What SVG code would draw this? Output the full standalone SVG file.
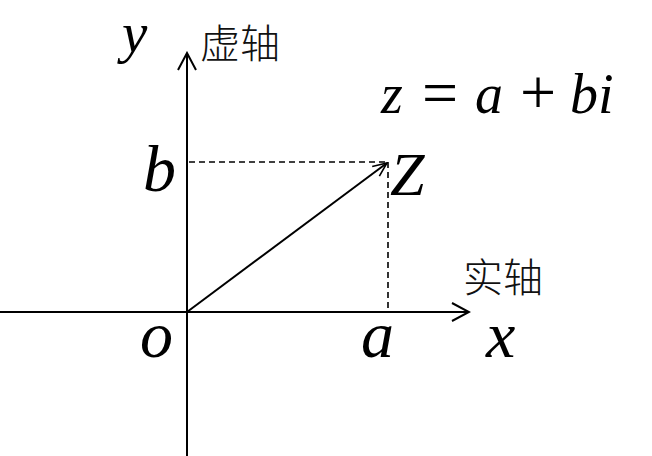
<svg xmlns="http://www.w3.org/2000/svg" width="652" height="456" viewBox="0 0 652 456">
<style>
.ax{stroke:#000;stroke-width:2;fill:none}
.ds{stroke:#000;stroke-width:1.6;fill:none;stroke-dasharray:6 4}
</style>
<defs>
<marker id="oa" viewBox="0 0 20 20" refX="18" refY="10" markerWidth="20" markerHeight="20" markerUnits="userSpaceOnUse" orient="auto">
<path d="M1,1 L18,10 L1,19" fill="none" stroke="#000" stroke-width="2"/>
</marker>
<marker id="va" viewBox="0 0 16 16" refX="15" refY="8" markerWidth="16" markerHeight="16" markerUnits="userSpaceOnUse" orient="auto">
<path d="M1,2 L15,8 L1,14" fill="none" stroke="#000" stroke-width="1.6"/>
</marker>
</defs>
<rect width="652" height="456" fill="#fff"/>
<g id="connectors">
<line class="ax" x1="0" y1="312" x2="469" y2="312" marker-end="url(#oa)"/>
<line class="ax" x1="187" y1="456" x2="187" y2="53" marker-end="url(#oa)"/>
<line class="ds" x1="189" y1="162" x2="388" y2="162"/>
<line class="ds" x1="388" y1="162" x2="388" y2="311"/>
<line class="ax" x1="187" y1="312" x2="387" y2="163" stroke-width="1.8" marker-end="url(#va)"/>
</g>
<g id="label-y"><text x="122" y="52" font-family="Liberation Serif" font-style="italic" font-size="57">y</text></g>
<g id="formula">
<text x="381" y="113" font-family="Liberation Serif" font-style="italic" font-size="56">z</text>
<text x="422" y="114" font-family="Liberation Serif" font-size="64">=</text>
<text x="475" y="113" font-family="Liberation Serif" font-style="italic" font-size="56">a</text>
<text x="520" y="114" font-family="Liberation Serif" font-size="64">+</text>
<text x="570" y="113" font-family="Liberation Serif" font-style="italic" font-size="56">bi</text>
</g>
<g id="label-b"><text x="143" y="191" font-family="Liberation Serif" font-style="italic" font-size="66">b</text></g>
<g id="label-Z"><text x="390" y="195" font-family="Liberation Serif" font-style="italic" font-size="62">Z</text></g>
<g id="label-O"><text x="140" y="357" font-family="Liberation Serif" font-style="italic" font-size="66">o</text></g>
<g id="label-a"><text x="361" y="357" font-family="Liberation Serif" font-style="italic" font-size="66">a</text></g>
<g id="label-x"><text x="486" y="357" font-family="Liberation Serif" font-style="italic" font-size="66">x</text></g>
<g id="label-imag"><text x="200" y="58" font-family="Noto Sans CJK SC" font-weight="300" font-size="40" fill="#111">虚轴</text></g>
<g id="label-real"><text x="463" y="292" font-family="Noto Sans CJK SC" font-weight="300" font-size="40" fill="#111">实轴</text></g>
</svg>
